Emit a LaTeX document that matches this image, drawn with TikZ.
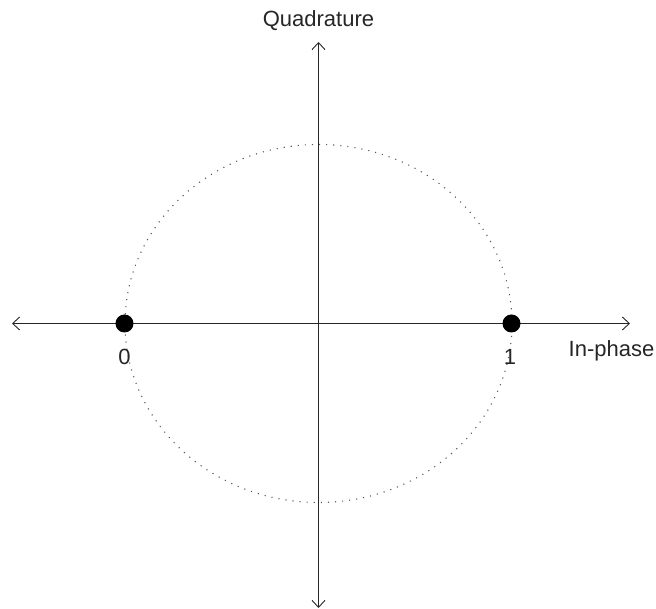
\documentclass[tikz,border=0pt]{standalone}
\usepackage{fontspec}
\setmainfont{Liberation Sans}
\usetikzlibrary{arrows.meta}
\begin{document}
\begin{tikzpicture}[x=1pt,y=1pt,
  axis/.style={line width=1.3pt,color=black!85,-{Straight Barb[length=7pt,width=13pt,line width=0.9pt]}},
  bigdot/.style={circle,fill=black,inner sep=0pt,minimum size=18pt},
  lbl/.style={font=\fontsize{22}{24}\selectfont,color=black!85,inner sep=0pt,anchor=base},
  dotted circ/.style={line width=1.1pt,color=black!65,dash pattern=on 1.1pt off 6pt}]
\useasboundingbox (-318.5,-285.5) rectangle (337.5,323.5);
\coordinate (c) at (0,0);
\coordinate (l) at (-306.5,0);
\coordinate (r) at (311.5,0);
\coordinate (t) at (0,281.5);
\coordinate (b) at (0,-284.5);
\draw[dotted circ] (c) ellipse [x radius=193.5, y radius=179];
\draw[axis] (c) -- (r);
\draw[axis] (c) -- (l);
\draw[axis] (c) -- (t);
\draw[axis] (c) -- (b);
\node[bigdot] (p0) at (-194,0) {};
\node[bigdot] (p1) at (193,0) {};
\node[lbl] (l0) at (-194,-41.5) {0};
\node[lbl] (l1) at (191.5,-41.5) {1};
\node[lbl] (ip) at (293,-33.5) {In-phase};
\node[lbl] (qd) at (0,296.5) {Quadrature};
\end{tikzpicture}
\end{document}
